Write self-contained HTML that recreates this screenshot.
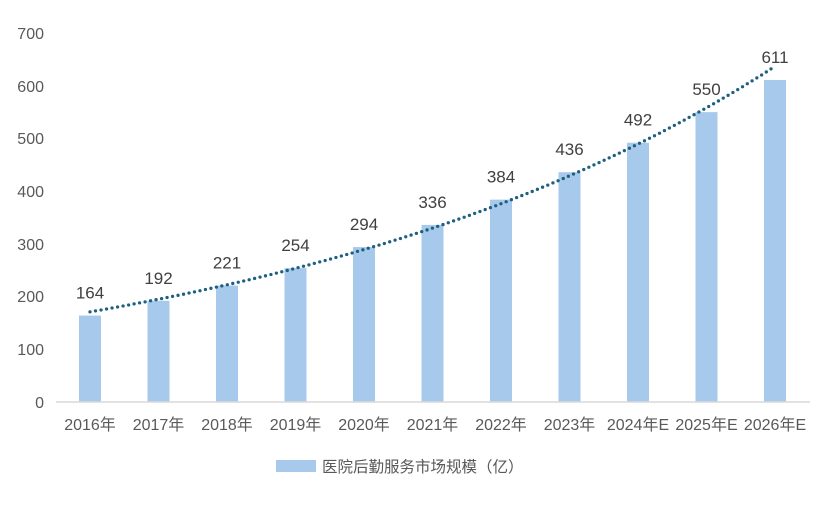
<!DOCTYPE html>
<html><head><meta charset="utf-8"><style>
body{margin:0;background:#fff;}
svg text{font-family:"Liberation Sans","Noto Sans CJK SC",sans-serif;fill:#595959;}
</style></head><body>
<svg width="816" height="503" xmlns="http://www.w3.org/2000/svg">
<g font-size="16" text-anchor="end">
<text x="44" y="408">0</text><text x="44" y="355">100</text><text x="44" y="302">200</text>
<text x="44" y="250">300</text><text x="44" y="197">400</text><text x="44" y="144">500</text>
<text x="44" y="92">600</text><text x="44" y="39">700</text>
</g>
<g fill="#a6c9ec" id="bars"></g>
<line x1="56" y1="402" x2="810" y2="402" stroke="#d9d9d9" stroke-width="1.5"/>
<polyline id="trend" fill="none" stroke="#1f5f7f" stroke-width="3.3" stroke-linecap="round" stroke-dasharray="0 5.6"/>
<g id="labels" font-size="17" text-anchor="middle"></g>
<g id="xl" font-size="16" text-anchor="middle"></g>
<rect x="276" y="460" width="40" height="12" fill="#a6c9ec"/>
<text x="322" y="472" font-size="15.5">医院后勤服务市场规模（亿）</text>
<script>
var v=[164,192,221,254,294,336,384,436,492,550,611];
var xs=["2016年","2017年","2018年","2019年","2020年","2021年","2022年","2023年","2024年E","2025年E","2026年E"];
var ns="http://www.w3.org/2000/svg",s=52.7/100;
function el(t,a,p,txt){var e=document.createElementNS(ns,t);for(var k in a)e.setAttribute(k,a[k]);if(txt)e.textContent=txt;document.getElementById(p).appendChild(e);}
for(var i=0;i<11;i++){var cx=90+68.5*i,h=v[i]*s;
el("rect",{x:cx-11,y:402-h,width:22,height:h},"bars");
el("text",{x:cx,y:402-h-17,style:"fill:#404040"},"labels",""+v[i]);
el("text",{x:cx,y:430},"xl",xs[i]);}
var pts=[];for(var t=0;t<=100;t++){var i=t/10,val=171*Math.pow(1.1405,i);pts.push((90+68.5*i).toFixed(1)+","+(402-val*s).toFixed(1));}
document.getElementById("trend").setAttribute("points",pts.join(" "));
</script>
</svg>
</body></html>
